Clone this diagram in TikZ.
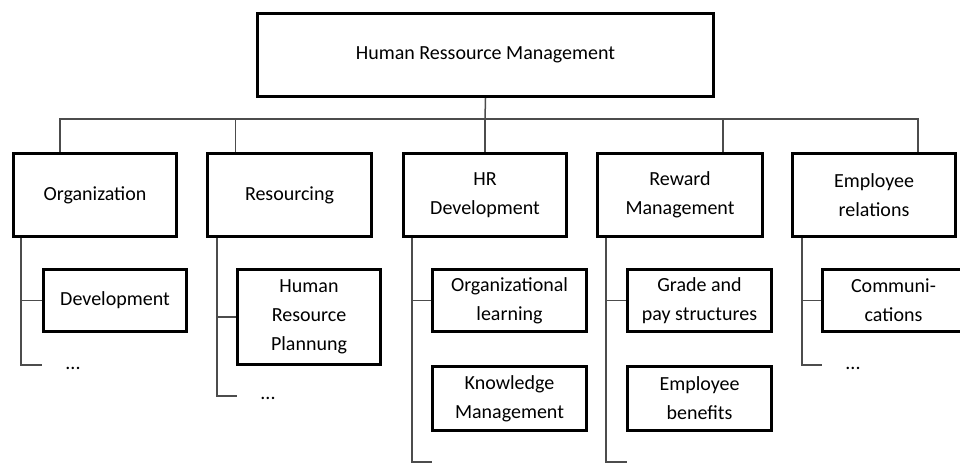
\documentclass[tikz,border=0pt]{standalone}
\usepackage{fontspec}
\setmainfont{Carlito}
\usepackage{tikz}
\usetikzlibrary{calc}
\tikzstyle{every node}=[font=\fontsize{20}{29}\selectfont]

\begin{document}
\begin{tikzpicture}[x=1pt, y=-1pt,
    box/.style={draw, line width=3pt, align=center, inner sep=0pt},
    link/.style={line width=1.5pt, black!70}]
            \useasboundingbox (0, 0) rectangle (960, 466);

            \node [box, minimum width=456pt, minimum height=83pt] (hrm) at (485.5, 55) {Human Ressource Management};

            \node [box, minimum width=163pt, minimum height=83pt] (org) at (95, 195) {Organization};
            \node [box, minimum width=164pt, minimum height=83pt] (res) at (289.5, 195) {Resourcing};
            \node [box, minimum width=163pt, minimum height=83pt] (hrd) at (485, 195) {HR\\Development};
            \node [box, minimum width=165pt, minimum height=83pt] (rew) at (680, 195) {Reward\\Management};
            \node [box, minimum width=163pt, minimum height=83pt] (emp) at (874, 195) {Employee\\relations};

            \node [box, minimum width=143pt, minimum height=62pt] (dev) at (115, 300.5) {Development};
            \node [box, minimum width=143pt, minimum height=95pt] (hrp) at (309, 317) {Human\\Resource\\Plannung};
            \node [box, minimum width=154pt, minimum height=62pt] (orl) at (509.5, 300.5) {Organizational\\learning};
            \node [box, minimum width=154pt, minimum height=64pt] (knm) at (509.5, 398.5) {Knowledge\\Management};
            \node [box, minimum width=144pt, minimum height=62pt] (gps) at (699.5, 300.5) {Grade and\\pay structures};
            \node [box, minimum width=144pt, minimum height=64pt] (ebf) at (699.5, 398.5) {Employee\\benefits};
            \node [box, minimum width=142pt, minimum height=62pt] (com) at (893.5, 300.5) {Communi-\\cations};

            \node (orgmore) at (73, 368) {...};
            \node (resmore) at (268, 398) {...};
            \node (empmore) at (853, 368) {...};

            % tree under the top box
            \coordinate (bus) at (485, 119);
            \draw [link] (hrm.south) -- (bus);
            \draw [link] (bus) -| ($(org.north)+(-35, 0)$);
            \draw [link] (bus) -| ($(res.north)+(-54, 0)$);
            \draw [link] (bus) -- (hrd.north);
            \draw [link] (bus) -| ($(rew.north)+(43, 0)$);
            \draw [link] (bus) -| ($(emp.north)+(44, 0)$);

            % lines down each column
            \coordinate (orgend) at (42, 365);
            \coordinate (resend) at (237, 396);
            \coordinate (hrdend) at (432, 462);
            \coordinate (rewend) at (627, 462);
            \coordinate (empend) at (822, 365);

            \draw [link] ($(org.south west)+(9, 0)$) |- (dev.west);
            \draw [link] ($(org.south west)+(9, 0)$) |- (orgend);
            \draw [link] ($(res.south west)+(11, 0)$) |- (hrp.west);
            \draw [link] ($(res.south west)+(11, 0)$) |- (resend);
            \draw [link] ($(hrd.south west)+(10, 0)$) |- (orl.west);
            \draw [link] ($(hrd.south west)+(10, 0)$) |- (hrdend);
            \draw [link] ($(rew.south west)+(10, 0)$) |- (gps.west);
            \draw [link] ($(rew.south west)+(10, 0)$) |- (rewend);
            \draw [link] ($(emp.south west)+(11, 0)$) |- (com.west);
            \draw [link] ($(emp.south west)+(11, 0)$) |- (empend);
        \end{tikzpicture}
\end{document}
